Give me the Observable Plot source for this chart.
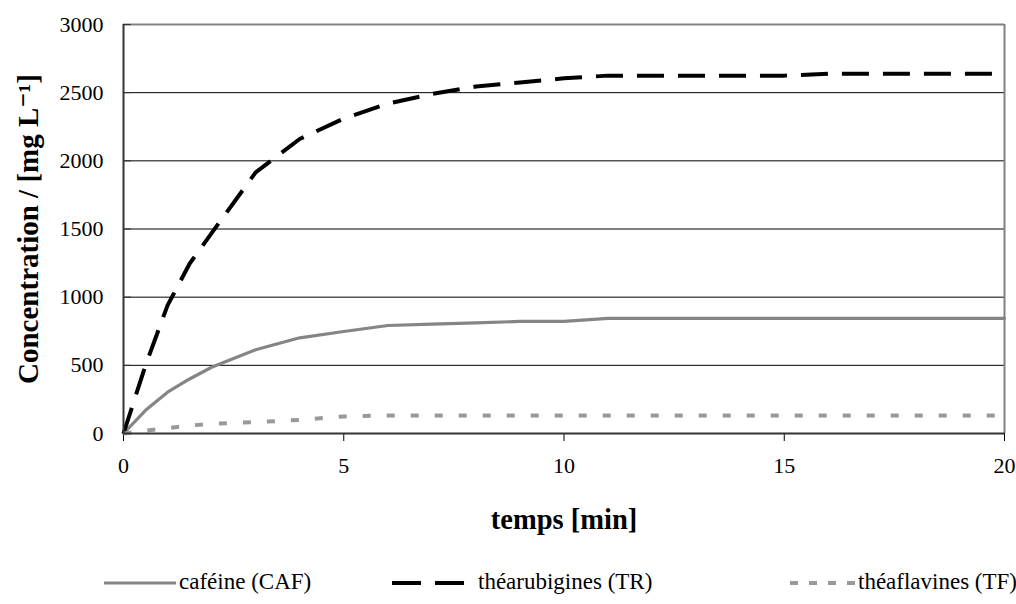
<!DOCTYPE html>
<html>
<head>
<meta charset="utf-8">
<script src="https://cdn.jsdelivr.net/npm/d3@7"></script>
<script src="https://cdn.jsdelivr.net/npm/@observablehq/plot@0.6"></script>
<style>
  html, body { margin: 0; padding: 0; background: #fff; }
  #wrap { width: 1016px; position: relative; font-family: "Liberation Serif", "Times New Roman", "DejaVu Serif", serif; }
  #legend { position: relative; width: 1016px; height: 44px; font-size: 23px; color: #000; font-family: "Liberation Serif", "Times New Roman", "DejaVu Serif", serif; }
  #legend .item { position: absolute; top: 0; height: 44px; line-height: 44px; white-space: nowrap; }
  #legend svg { position: absolute; top: 0; }
  svg text { font-family: "Liberation Serif", "Times New Roman", "DejaVu Serif", serif; }
</style>
</head>
<body>
<div id="wrap"></div>
<script>
// ---- data ----
const time = [0, 0.5, 1, 1.5, 2, 3, 4, 5, 6, 7, 8, 9, 10, 11, 12, 13, 14, 15, 16, 17, 18, 19, 20];
const caf  = [0, 170, 303, 400, 486, 614, 702, 748, 792, 802, 812, 822, 822, 845, 845, 845, 845, 845, 845, 845, 845, 845, 845];
const tr   = [0, 500, 940, 1245, 1470, 1915, 2160, 2310, 2420, 2490, 2545, 2575, 2605, 2625, 2625, 2625, 2625, 2625, 2638, 2638, 2638, 2638, 2638];
const tf   = [0, 20, 40, 58, 72, 83, 100, 125, 132, 132, 132, 132, 132, 132, 132, 132, 132, 132, 132, 132, 132, 132, 132];
const seriesNames = ["caféine (CAF)", "théarubigines (TR)", "théaflavines (TF)"];
const xTicks = [0, 5, 10, 15, 20];
const yTicks = [0, 500, 1000, 1500, 2000, 2500, 3000];
const xLabel = "temps [min]";
const yLabel = "Concentration / [mg L\u207B\u00B9]";

const FONT = '"Liberation Serif", "Times New Roman", "DejaVu Serif", serif';
const rows = (vals) => time.map((t, i) => ({t, v: vals[i]}));
const dCAF = rows(caf), dTR = rows(tr), dTF = rows(tf);

const W = 1016, H = 560, mL = 123, mR = 12, mT = 24, mB = 127;

const chart = Plot.plot({
  width: W, height: H,
  marginLeft: mL, marginRight: mR, marginTop: mT, marginBottom: mB,
  style: {fontFamily: FONT, background: "#fff", color: "#000"},
  x: {domain: [0, 20], ticks: xTicks},
  y: {domain: [0, 3000], ticks: yTicks},
  marks: [
    Plot.gridY(yTicks.filter(d => d > 0 && d < 3000), {stroke: "#000", strokeOpacity: 1, strokeWidth: 1}),
    Plot.ruleY([3000], {stroke: "#808080", strokeWidth: 2}),
    Plot.ruleX([20], {stroke: "#808080", strokeWidth: 2}),
    Plot.axisY({ticks: yTicks, tickSize: -8, tickPadding: 28, fontSize: 22, fontFamily: FONT, tickFormat: d3.format("d"), label: null, stroke: "#333"}),
    Plot.axisX({ticks: xTicks, tickSize: 8, tickPadding: 16, fontSize: 22, fontFamily: FONT, tickFormat: d3.format("d"), label: null, stroke: "#000"}),
    Plot.line(dCAF, {x: "t", y: "v", stroke: "#858585", strokeWidth: 3.2, strokeLinejoin: "round"}),
    Plot.line(dTR, {x: "t", y: "v", stroke: "#000", strokeWidth: 4, strokeDasharray: "27,14", strokeLinecap: "butt"}),
    Plot.line(dTF, {x: "t", y: "v", stroke: "#999999", strokeWidth: 4, strokeDasharray: "8,16", strokeLinecap: "butt"}),
    Plot.ruleX([0], {stroke: "#333", strokeWidth: 2}),
    Plot.ruleY([0], {stroke: "#333", strokeWidth: 2}),
    Plot.text([xLabel], {frameAnchor: "bottom", dy: 86, lineAnchor: "middle", textAnchor: "middle", text: d => d, fontSize: 28.5, fontWeight: "bold", fontFamily: FONT, fill: "#000"}),
    Plot.text([yLabel], {frameAnchor: "left", dx: -95, rotate: -90, lineAnchor: "middle", textAnchor: "middle", text: d => d, fontSize: 29, fontWeight: "bold", fontFamily: FONT, fill: "#000"})
  ]
});
document.getElementById("wrap").appendChild(chart);

// ---- legend (HTML below the SVG) ----
const legend = document.createElement("div");
legend.id = "legend";
const items = [
  {name: seriesNames[0], x1: 104, x2: 176, tx: 179, stroke: "#858585", w: 3.2, dash: null},
  {name: seriesNames[1], x1: 392, x2: 466, tx: 478, stroke: "#000", w: 4, dash: "29,14"},
  {name: seriesNames[2], x1: 790, x2: 856, tx: 858, stroke: "#999999", w: 4, dash: "8,11"}
];
for (const it of items) {
  const s = d3.create("svg").attr("width", it.x2 - it.x1).attr("height", 44)
    .style("left", it.x1 + "px");
  s.append("line").attr("x1", 0).attr("x2", it.x2 - it.x1).attr("y1", 23).attr("y2", 23)
    .attr("stroke", it.stroke).attr("stroke-width", it.w)
    .attr("stroke-dasharray", it.dash);
  legend.appendChild(s.node());
  const t = document.createElement("span");
  t.className = "item";
  t.style.left = it.tx + "px";
  t.textContent = it.name;
  legend.appendChild(t);
}
document.getElementById("wrap").appendChild(legend);
</script>
</body>
</html>
